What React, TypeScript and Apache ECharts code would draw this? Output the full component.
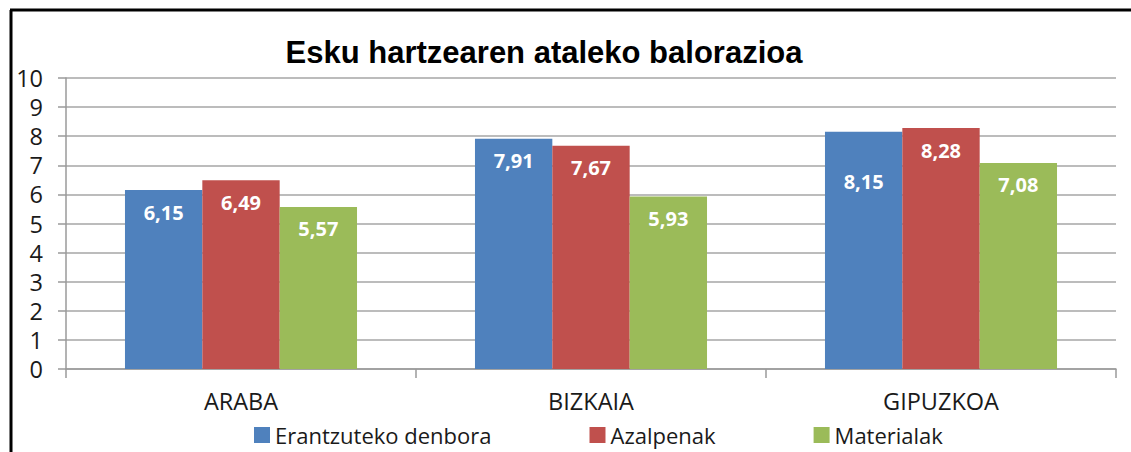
import React, { useEffect, useRef } from "react";
import * as echarts from "echarts";

const categories = ["ARABA", "BIZKAIA", "GIPUZKOA"];
const seriesNames = ["Erantzuteko denbora", "Azalpenak", "Materialak"];
const erantzutekoDenbora = [6.15, 7.91, 8.15];
const azalpenak = [6.49, 7.67, 8.28];
const materialak = [5.57, 5.93, 7.08];
const yTicks = [0, 1, 2, 3, 4, 5, 6, 7, 8, 9, 10];
const colors = ["#4F81BD", "#C0504D", "#9BBB59"];

const FONT = "Open Sans";

export default function App() {
  const ref = useRef<HTMLDivElement>(null);
  useEffect(() => {
    if (!ref.current) return;
    const chart = echarts.init(ref.current, null, { renderer: "svg" });
    const values = [erantzutekoDenbora, azalpenak, materialak];
    const series = seriesNames.map((name, si) => ({
      name,
      type: "bar",
      barGap: "0%",
      barCategoryGap: "33.7%",
      itemStyle: { color: colors[si] },
      label: {
        show: true,
        position: "insideTop",
        distance: 12,
        color: "#ffffff",
        fontWeight: "bold",
        fontSize: 20,
        fontFamily: FONT,
        formatter: (p: any) => p.value.toFixed(2).replace(".", ","),
      },
      data: values[si].map((v, ci) =>
        si === 0 && ci === 2 ? { value: v, label: { distance: 40 } } : v
      ),
    }));
    chart.setOption({
      animation: false,
      backgroundColor: "#ffffff",
      title: {
        text: "Esku hartzearen ataleko balorazioa",
        left: 539,
        textAlign: "center",
        top: 32,
        textStyle: {
          fontFamily: "Liberation Sans",
          fontWeight: "bold",
          fontSize: 31,
          color: "#000000",
        },
      },
      legend: {
        left: 254,
        top: 424,
        padding: 0,
        itemWidth: 16,
        itemHeight: 16,
        itemGap: 98,
        icon: "rect",
        textStyle: { fontFamily: FONT, fontSize: 22, lineHeight: 22, color: "#1a1a1a" },
        data: seriesNames,
      },
      grid: { left: 66, right: 15, top: 78, bottom: 83, containLabel: false },
      xAxis: {
        type: "category",
        data: categories,
        axisLine: { lineStyle: { color: "#9a9a9a", width: 1.5 } },
        axisTick: { show: true, length: 9, lineStyle: { color: "#9a9a9a", width: 1.5 } },
        axisLabel: { fontFamily: FONT, fontSize: 23.5, color: "#1a1a1a", margin: 20 },
      },
      yAxis: {
        type: "value",
        min: yTicks[0],
        max: yTicks[yTicks.length - 1],
        interval: 1,
        axisLine: { show: true, lineStyle: { color: "#9a9a9a", width: 1.5 } },
        axisTick: { show: true, length: 8, lineStyle: { color: "#9a9a9a", width: 1.5 } },
        splitLine: { lineStyle: { color: "#a6a6a6", width: 1.5 } },
        axisLabel: { fontFamily: FONT, fontSize: 23.5, color: "#1a1a1a", margin: 23 },
      },
      graphic: [
        { type: "line", shape: { x1: 11, y1: 10, x2: 11, y2: 452 }, style: { stroke: "#000", lineWidth: 3 } },
        { type: "line", shape: { x1: 10, y1: 10, x2: 1131, y2: 10 }, style: { stroke: "#000", lineWidth: 3 } },
      ],
      series,
    });
    return () => chart.dispose();
  }, []);
  return (
    <div
      ref={ref}
      style={{ position: "absolute", left: 0, top: 0, width: 1131, height: 452 }}
    />
  );
}
